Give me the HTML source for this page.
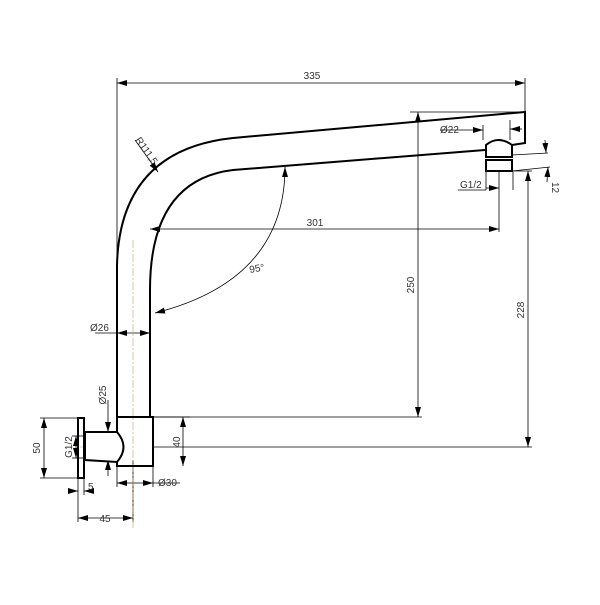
<!DOCTYPE html><html><head><style>body{margin:0;background:#fff}</style></head><body>
<svg width="600" height="600" viewBox="0 0 600 600" xmlns="http://www.w3.org/2000/svg" font-family="Liberation Sans, sans-serif">
<defs><marker id="a" viewBox="0 0 10 6" refX="10" refY="3" markerWidth="10" markerHeight="6" orient="auto-start-reverse" markerUnits="userSpaceOnUse"><path d="M0,0L10,3L0,6z" fill="#000"/></marker></defs>
<g stroke="#000" stroke-width="0.8" fill="none">
<line x1="117" y1="78" x2="117" y2="417"/><line x1="525" y1="78" x2="525" y2="112"/>
<line x1="410" y1="112" x2="525" y2="112"/>
<line x1="153" y1="417" x2="422" y2="417"/><line x1="153" y1="447" x2="532" y2="447"/>
<line x1="512" y1="171" x2="532" y2="171"/>
<line x1="512" y1="155" x2="548" y2="153"/><line x1="512" y1="171" x2="550" y2="167"/>
<line x1="499" y1="172" x2="499" y2="232"/>
<line x1="486" y1="172" x2="486" y2="190"/><line x1="513" y1="172" x2="513" y2="190"/>
<line x1="483" y1="125" x2="483" y2="140"/><line x1="510" y1="120" x2="510" y2="140"/>
<line x1="78" y1="478" x2="78" y2="522"/><line x1="84" y1="478" x2="84" y2="495"/>
<line x1="133" y1="460" x2="133" y2="522"/><line x1="117" y1="466" x2="117" y2="487"/><line x1="153" y1="466" x2="153" y2="487"/>
<line x1="40" y1="418" x2="78" y2="418"/><line x1="40" y1="478" x2="78" y2="478"/>
<line x1="72" y1="436" x2="85" y2="436"/><line x1="72" y1="458" x2="85" y2="458"/>
<line x1="153" y1="417" x2="190" y2="417"/>
<line x1="117" y1="83" x2="525" y2="83" marker-start="url(#a)" marker-end="url(#a)"/>
<line x1="418" y1="112" x2="418" y2="417" marker-start="url(#a)" marker-end="url(#a)"/>
<line x1="528" y1="171" x2="528" y2="447" marker-start="url(#a)" marker-end="url(#a)"/>
<line x1="150" y1="229" x2="499" y2="229" marker-start="url(#a)" marker-end="url(#a)"/>
<line x1="183" y1="417" x2="183" y2="466" marker-start="url(#a)" marker-end="url(#a)"/>
<line x1="117" y1="483" x2="153" y2="483" marker-start="url(#a)" marker-end="url(#a)"/>
<line x1="153" y1="483" x2="180" y2="483"/>
<line x1="78" y1="518" x2="133" y2="518" marker-start="url(#a)" marker-end="url(#a)"/>
<line x1="44" y1="418" x2="44" y2="478" marker-start="url(#a)" marker-end="url(#a)"/>
<line x1="76" y1="436" x2="76" y2="458" marker-start="url(#a)" marker-end="url(#a)"/>
<line x1="68" y1="491" x2="78" y2="491" marker-end="url(#a)"/><line x1="94" y1="491" x2="84" y2="491" marker-end="url(#a)"/>
<line x1="108" y1="400" x2="108" y2="432" marker-end="url(#a)"/><line x1="108" y1="476" x2="108" y2="460" marker-end="url(#a)"/>
<line x1="95" y1="333" x2="117" y2="333"/>
<line x1="117" y1="333" x2="150" y2="333" marker-start="url(#a)" marker-end="url(#a)"/>
<line x1="440" y1="130" x2="483" y2="130" marker-end="url(#a)"/><line x1="522" y1="129" x2="510" y2="129" marker-end="url(#a)"/>
<line x1="458" y1="190" x2="486" y2="190"/><line x1="486" y1="188" x2="499" y2="188" marker-end="url(#a)"/>
<line x1="545" y1="140" x2="546" y2="153" marker-end="url(#a)"/><line x1="547" y1="182" x2="548" y2="167" marker-end="url(#a)"/>
<line x1="135" y1="140" x2="158" y2="172" marker-end="url(#a)"/>
<path d="M285,167 Q285,280 155,313" marker-start="url(#a)" marker-end="url(#a)"/>
<line x1="133" y1="240" x2="133" y2="530" stroke="#c96" stroke-dasharray="8,2,2,2" stroke-width="0.6"/>
<line x1="66" y1="447" x2="120" y2="447" stroke="#c96" stroke-dasharray="8,2,2,2" stroke-width="0.6"/>
</g>
<g stroke="#000" stroke-width="2" fill="none">
<path d="M117,417 L117,265 Q120,150 233,138 L525,112 L525,143 L512,145"/>
<path d="M150,417 L150,290 Q150,180 233,170 L485,150"/>
<path d="M486,157 L486,145 Q498,135 512,145 L512,157 Z"/>
<rect x="486" y="160" width="26" height="11"/>
<rect x="117" y="417" width="36" height="49"/>
<path d="M85,432 L117,432 Q130,447 117,462 L85,460 Z" fill="#fff"/>
<rect x="78" y="418" width="6" height="60"/>
</g>
<g font-size="10" fill="#333">
<text x="312" y="79" text-anchor="middle">335</text>
<text x="315" y="226" text-anchor="middle">301</text>
<text x="250" y="273" transform="rotate(-10 250 273)">95°</text>
<text x="440" y="133">Ø22</text>
<text x="460" y="188">G1/2</text>
<text x="90" y="331">Ø26</text>
<text x="158" y="486">Ø30</text>
<text x="105" y="522" text-anchor="middle">45</text>
<text x="88" y="490">5</text>
<text transform="translate(414,285) rotate(-90)" text-anchor="middle">250</text>
<text transform="translate(524,310) rotate(-90)" text-anchor="middle">228</text>
<text transform="translate(180,442) rotate(-90)" text-anchor="middle">40</text>
<text transform="translate(40,448) rotate(-90)" text-anchor="middle">50</text>
<text transform="translate(72,447) rotate(-90)" text-anchor="middle">G1/2</text>
<text transform="translate(106,395) rotate(-90)" text-anchor="middle">Ø25</text>
<text transform="translate(552,182) rotate(90)">12</text>
<text transform="translate(135,140) rotate(55)">R111,5</text>
</g>
</svg>
</body></html>
